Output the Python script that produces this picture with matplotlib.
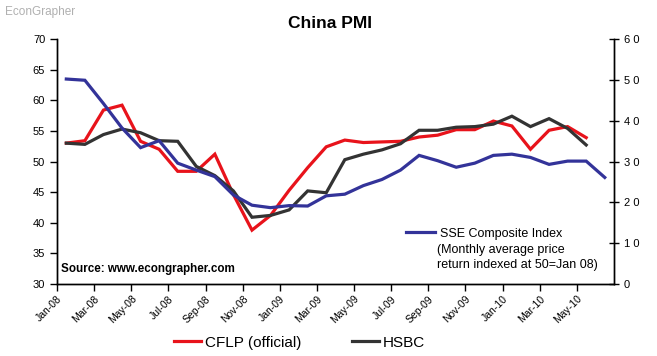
import numpy as np
import matplotlib.pyplot as plt

plt.rcParams['font.family'] = ['Liberation Sans', 'DejaVu Sans']

# monthly data, Jan-08 onward
cflp = [53.0, 53.4, 58.4, 59.2, 53.3, 52.0, 48.4, 48.4, 51.2, 44.6, 38.8, 41.2,
        45.3, 49.0, 52.4, 53.5, 53.1, 53.2, 53.3, 54.0, 54.3, 55.2, 55.2, 56.6,
        55.8, 52.0, 55.1, 55.7, 53.9]
hsbc = [53.0, 52.8, 54.4, 55.3, 54.7, 53.4, 53.3, 49.2, 47.7, 45.2, 40.9, 41.2,
        42.1, 45.2, 44.9, 50.3, 51.2, 51.9, 52.9, 55.1, 55.1, 55.6, 55.7, 56.1,
        57.4, 55.7, 57.0, 55.4, 52.7]
sse = [50.2, 49.9, 44.2, 38.2, 33.4, 35.1, 29.6, 27.9, 26.3, 21.8, 19.3, 18.7,
       19.2, 19.1, 21.6, 22.0, 24.1, 25.6, 27.9, 31.5, 30.2, 28.6, 29.6, 31.5,
       31.8, 31.0, 29.3, 30.1, 30.1, 26.1]
tick_labels = ['Jan-08', 'Mar-08', 'May-08', 'Jul-08', 'Sep-08', 'Nov-08', 'Jan-09',
               'Mar-09', 'May-09', 'Jul-09', 'Sep-09', 'Nov-09', 'Jan-10', 'Mar-10', 'May-10']

red = '#e8131b'
dark = '#333333'
blue = '#333399'

fig = plt.figure(figsize=(6.57, 3.56), dpi=100)
ax = fig.add_axes([0.0868, 0.2022, 0.8478, 0.6882])
ax2 = ax.twinx()

x1 = np.arange(len(cflp)) + 0.5
x2 = np.arange(len(sse)) + 0.5
l1, = ax.plot(x1, cflp, color=red, lw=2.3, solid_joinstyle='miter')
l2, = ax.plot(x1, hsbc, color=dark, lw=2.3, solid_joinstyle='miter')
l3, = ax2.plot(x2, sse, color=blue, lw=2.3, solid_joinstyle='miter')

ax.set_xlim(0, 30)
ax.set_ylim(30, 70)
ax2.set_ylim(0, 60)
ax.set_yticks(range(30, 71, 5))
ax2.set_yticks(range(0, 61, 10))
ax.set_xticks(range(0, 30, 2))
ax.set_xticklabels(tick_labels, rotation=45, ha='right', rotation_mode='anchor', fontsize=7.5)
ax.tick_params(axis='y', labelsize=8, length=5, width=1, direction='out')
ax.tick_params(axis='x', length=5, width=1, direction='out', pad=2)
ax2.tick_params(axis='y', labelsize=8, length=7, width=1, direction='inout')
ax2.set_yticklabels([' '.join(str(v)) for v in range(0, 61, 10)])

for a in (ax, ax2):
    a.spines['top'].set_visible(False)
    for s in ('left', 'right', 'bottom'):
        a.spines[s].set_linewidth(1)
        a.spines[s].set_color('black')

fig.text(0.503, 0.935, 'China PMI', ha='center', va='center', fontsize=12.5,
         fontweight='bold')
fig.text(0.008, 0.965, 'EconGrapher', ha='left', va='center', fontsize=8.5,
         color='#b0b0b0')
ax.text(0.008, 0.06, 'Source: www.econgrapher.com', transform=ax.transAxes,
        fontsize=8.4, fontweight='bold', va='center')

ax2.legend([l3], ['SSE Composite Index'], loc='center left',
           bbox_to_anchor=(0.627, 0.205), frameon=False, fontsize=9,
           handlelength=2.3, handletextpad=0.4, borderaxespad=0, borderpad=0)
ax2.text(0.682, 0.108, '(Monthly average price\nreturn indexed at 50=Jan 08)',
         transform=ax2.transAxes, fontsize=9, va='center', ha='left',
         linespacing=1.4)
fig.legend([l1, l2], ['CFLP (official)', 'HSBC'], loc='center',
           bbox_to_anchor=(0.456, 0.037), ncol=2, frameon=False, fontsize=11,
           handlelength=1.8, handletextpad=0.25, columnspacing=3.3)

fig.savefig('out.png', dpi=100)
